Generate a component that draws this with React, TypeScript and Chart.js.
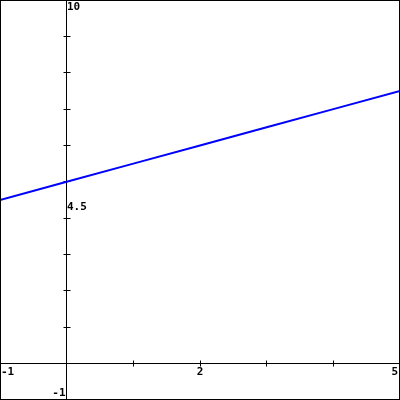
import React, { useEffect, useRef } from "react";
import { Chart, registerables } from "chart.js";

Chart.register(...registerables);

const xValues = [-1, 0, 1, 2, 3, 4, 5];
const yValues = [4.5, 5, 5.5, 6, 6.5, 7, 7.5];
const xTickLabels = [-1, 2, 5];
const yTickLabels = [10, 4.5, -1];
const xTickMarks = [1, 2, 3, 4];
const yTickMarks = [1, 2, 3, 4, 5, 6, 7, 8, 9];
const X_MIN = -1;
const X_MAX = 5;
const Y_MIN = -1;
const Y_MAX = 10;

export default function App() {
  const ref = useRef<HTMLCanvasElement | null>(null);

  useEffect(() => {
    document.body.style.margin = "0";
    const canvas = ref.current;
    if (!canvas) return;
    const font = "bold 11px 'DejaVu Sans Mono', 'Liberation Mono', monospace";

    const axesPlugin = {
      id: "axesPlugin",
      beforeDatasetsDraw(chart: any) {
        const ctx = chart.ctx;
        const xs = chart.scales.x;
        const ys = chart.scales.y;
        const x0 = Math.floor(xs.getPixelForValue(0)) + 0.5;
        const y0 = Math.floor(ys.getPixelForValue(0)) + 0.5;
        ctx.save();
        ctx.fillStyle = "#ffffff";
        ctx.fillRect(0, 0, chart.width, chart.height);
        ctx.strokeStyle = "#000000";
        ctx.lineWidth = 1;
        ctx.beginPath();
        ctx.moveTo(x0, 0);
        ctx.lineTo(x0, chart.height);
        ctx.moveTo(0, y0);
        ctx.lineTo(chart.width, y0);
        for (const v of yTickMarks) {
          const py = Math.floor(ys.getPixelForValue(v)) + 0.5;
          ctx.moveTo(x0 - 3, py);
          ctx.lineTo(x0 + 4, py);
        }
        for (const v of xTickMarks) {
          const px = Math.floor(xs.getPixelForValue(v)) + 0.5;
          ctx.moveTo(px, y0 - 3);
          ctx.lineTo(px, y0 + 3);
        }
        ctx.stroke();

        ctx.fillStyle = "#000000";
        ctx.font = font;
        // y labels
        ctx.textBaseline = "top";
        const yTop = yTickLabels[0];
        ctx.textAlign = "left";
        ctx.fillText(String(yTop), x0 + 0.5, Math.max(2, ys.getPixelForValue(yTop) + 2));
        const yMid = yTickLabels[1];
        ctx.fillText(String(yMid), x0 + 0.5, ys.getPixelForValue(yMid) + 2);
        const yBot = yTickLabels[2];
        ctx.textAlign = "right";
        ctx.textBaseline = "bottom";
        ctx.fillText(String(yBot), x0 - 1, Math.min(chart.height - 1, ys.getPixelForValue(yBot)));
        // x labels
        ctx.textBaseline = "top";
        xTickLabels.forEach((v, i) => {
          const px = xs.getPixelForValue(v);
          if (i === 0) {
            ctx.textAlign = "left";
            ctx.fillText(String(v), px + 1, y0 + 3);
          } else if (i === xTickLabels.length - 1) {
            ctx.textAlign = "right";
            ctx.fillText(String(v), px - 2, y0 + 3);
          } else {
            ctx.textAlign = "center";
            ctx.fillText(String(v), px, y0 + 3);
          }
        });
        ctx.restore();
      },
      afterDraw(chart: any) {
        const ctx = chart.ctx;
        ctx.save();
        ctx.strokeStyle = "#000000";
        ctx.lineWidth = 1;
        ctx.strokeRect(0.5, 0.5, chart.width - 1, chart.height - 1);
        ctx.restore();
      },
    };

    const chart = new Chart(canvas, {
      type: "scatter",
      data: {
        datasets: [
          {
            data: xValues.map((x, i) => ({ x, y: yValues[i] })),
            showLine: true,
            borderColor: "#0000ff",
            backgroundColor: "#0000ff",
            borderWidth: 2,
            pointRadius: 0,
            tension: 0,
          },
        ],
      },
      options: {
        animation: false,
        responsive: false,
        devicePixelRatio: 1,
        layout: { padding: 0 },
        plugins: {
          legend: { display: false },
          tooltip: { enabled: false },
        },
        scales: {
          x: { type: "linear", min: X_MIN, max: X_MAX, display: false },
          y: { type: "linear", min: Y_MIN, max: Y_MAX, display: false },
        },
      },
      plugins: [axesPlugin],
    });
    return () => chart.destroy();
  }, []);

  return <canvas ref={ref} width={400} height={400} style={{ display: "block" }} />;
}
